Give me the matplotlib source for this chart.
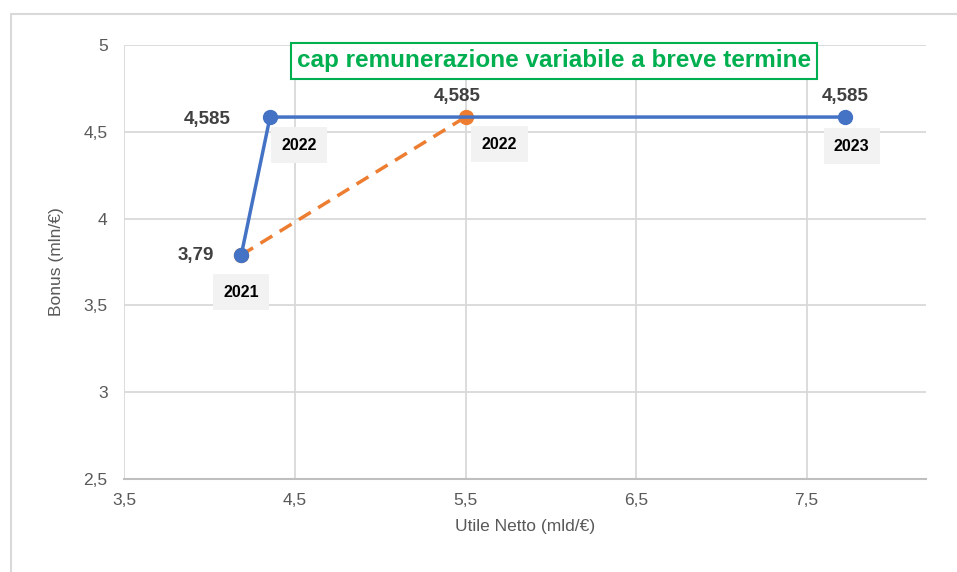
import matplotlib
matplotlib.use("Agg")
from matplotlib import pyplot as plt
from matplotlib.ticker import FuncFormatter
from matplotlib.patches import Rectangle

plt.rcParams['font.family'] = ['Liberation Sans', 'DejaVu Sans']

# dati
anni_actual = ["2021", "2022", "2023"]
utile_actual = [4.185, 4.354, 7.724]
bonus_actual = [3.79, 4.585, 4.585]

anni_target = ["2021", "2022"]
utile_target = [4.185, 5.5]
bonus_target = [3.79, 4.585]

BLUE = "#4472c4"
ORANGE = "#ed7d31"
GREY = "#595959"
DARK = "#404040"

fig = plt.figure(figsize=(9.57, 5.72), dpi=100)
fig.add_artist(Rectangle((0.011, -0.01), 1.2, 0.985, transform=fig.transFigure,
                         fill=False, edgecolor="#d9d9d9", linewidth=1.5))
ax = fig.add_axes([0.130, 0.1626, 0.8376, 0.7587])

ax.plot(utile_target, bonus_target, color=ORANGE, lw=2.5, ls=(0, (4, 2.5)),
        marker="o", ms=10, zorder=3)
ax.plot(utile_actual, bonus_actual, color=BLUE, lw=2.5, marker="o", ms=10, zorder=4)

def comma(v, pos):
    return ("%g" % v).replace(".", ",")

ax.set_xlim(3.5, 8.2)
ax.set_ylim(2.5, 5)
ax.set_xticks([3.5, 4.5, 5.5, 6.5, 7.5])
ax.set_yticks([2.5, 3, 3.5, 4, 4.5, 5])
ax.xaxis.set_major_formatter(FuncFormatter(comma))
ax.yaxis.set_major_formatter(FuncFormatter(comma))
ax.grid(True, color="#d9d9d9", lw=1.3)
ax.set_axisbelow(True)
for s in ["top", "right", "left"]:
    ax.spines[s].set_visible(False)
ax.spines["bottom"].set_color("#bfbfbf")
ax.spines["bottom"].set_linewidth(1.5)
ax.tick_params(length=0, labelsize=12.5, colors=GREY, pad=10)
ax.tick_params(axis="y", pad=12)
ax.set_xlabel("Utile Netto (mld/€)", fontsize=12.5, color=GREY, labelpad=8)
ax.set_ylabel("Bonus (mln/€)", fontsize=12.5, color=GREY, labelpad=14)

px = 0.72
def val(x, y, dx, dy):
    ax.annotate(comma(y, 0), (x, y), xytext=(dx * px, dy * px), textcoords="offset points",
                ha="center", va="center", fontsize=13.5, fontweight="bold", color=DARK, zorder=6)

def year(x, y, t, dx, dy):
    ax.annotate(t, (x, y), xytext=(dx * px, dy * px), textcoords="offset points",
                ha="center", va="center", fontsize=11.5, fontweight="bold", color="black",
                bbox=dict(boxstyle="square,pad=0.65", fc="#f2f2f2", ec="none"), zorder=6)

val(utile_actual[0], bonus_actual[0], -45, 0)
val(utile_actual[1], bonus_actual[1], -63, -2)
val(utile_actual[2], bonus_actual[2], 0, 21)
val(utile_target[1], bonus_target[1], -8, 21)

year(utile_actual[0], bonus_actual[0], anni_actual[0], 0, -37)
year(utile_actual[1], bonus_actual[1], anni_actual[1], 29, -28)
year(utile_actual[2], bonus_actual[2], anni_actual[2], 7, -29)
year(utile_target[1], bonus_target[1], anni_target[1], 34, -27)

fig.text(554 / 957, 1 - 61 / 572, "cap remunerazione variabile a breve termine",
         ha="center", va="center", fontsize=17.5, fontweight="bold", color="#00b050",
         bbox=dict(boxstyle="square,pad=0.25", fc="white", ec="#00b050", lw=1.5))

fig.savefig("out.png", dpi=100)
